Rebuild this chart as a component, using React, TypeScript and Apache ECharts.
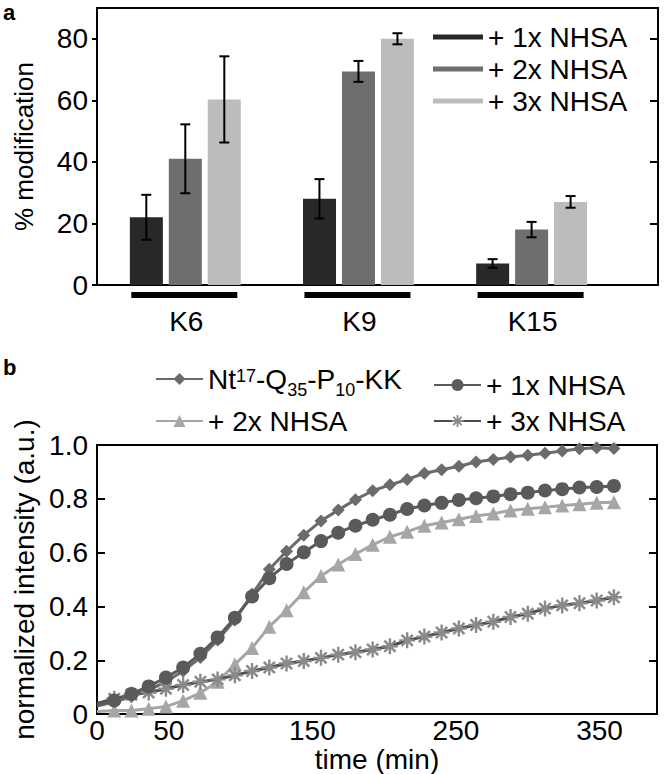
import React, { useEffect, useRef } from "react";
import * as echarts from "echarts";

// ---------- panel a data ----------
const sites = ["K6", "K9", "K15"];
const sitePos = [1, 2, 3];
const barNames = ["+ 1x NHSA", "+ 2x NHSA", "+ 3x NHSA"];
const mod1x = [22, 28, 7];
const mod2x = [41, 69.4, 18];
const mod3x = [60.3, 80, 27];
const err1x = [7.3, 6.4, 1.4];
const err2x = [11.2, 3.4, 2.5];
const err3x = [14, 1.8, 1.9];
const modTicks = [0, 20, 40, 60, 80];

// ---------- panel b data ----------
const timeMin = [0, 12, 24, 36, 48, 60, 72, 84, 96, 108, 120, 132, 144, 156, 168, 180, 192, 204, 216, 228, 240, 252, 264, 276, 288, 300, 312, 324, 336, 348, 360];
const intNt = [0.03, 0.045, 0.065, 0.09, 0.12, 0.16, 0.21, 0.275, 0.35, 0.445, 0.538, 0.605, 0.665, 0.718, 0.758, 0.797, 0.83, 0.852, 0.872, 0.895, 0.908, 0.921, 0.937, 0.946, 0.955, 0.962, 0.969, 0.978, 0.986, 0.99, 0.987];
const int1x = [0.035, 0.051, 0.075, 0.103, 0.136, 0.173, 0.224, 0.285, 0.358, 0.437, 0.505, 0.558, 0.601, 0.643, 0.674, 0.7, 0.722, 0.741, 0.762, 0.775, 0.785, 0.796, 0.802, 0.809, 0.817, 0.823, 0.831, 0.836, 0.842, 0.844, 0.848];
const int2x = [0.01, 0.013, 0.013, 0.02, 0.028, 0.05, 0.079, 0.12, 0.185, 0.246, 0.325, 0.386, 0.453, 0.513, 0.556, 0.595, 0.629, 0.659, 0.678, 0.7, 0.712, 0.724, 0.736, 0.745, 0.757, 0.763, 0.769, 0.775, 0.78, 0.785, 0.787];
const int3x = [0.04, 0.057, 0.072, 0.08, 0.094, 0.108, 0.12, 0.129, 0.144, 0.16, 0.173, 0.188, 0.197, 0.209, 0.221, 0.23, 0.24, 0.252, 0.274, 0.288, 0.303, 0.318, 0.331, 0.343, 0.361, 0.373, 0.392, 0.404, 0.412, 0.422, 0.434];
const timeTicks = [0, 50, 150, 250, 350];
const intTicks = [0, 0.2, 0.4, 0.6, 0.8, 1.0];
const lineNames = ["b0", "b1", "b2", "b3"];
const lineLabels: Record<string, string> = {
  b0: "{n|Nt}{sup|17}{n|-Q}{sub|35}{n|-P}{sub|10}{n|-KK}",
  b1: "+ 1x NHSA",
  b2: "+ 2x NHSA",
  b3: "+ 3x NHSA",
};

const FONT = '"Liberation Sans", Arial, sans-serif';
const barColors = ["#282828", "#6e6e6e", "#bcbcbc"];
const barOffsets = [-39, 0, 39];

const starPath =
  "path://M8.5,0L11.5,0L11.5,20L8.5,20Z M0,8.5L20,8.5L20,11.5L0,11.5Z M4.1,1.9L18.1,15.9L15.9,18.1L1.9,4.1Z M15.9,1.9L18.1,4.1L4.1,18.1L1.9,15.9Z";

export default function App() {
  const ref = useRef<HTMLDivElement>(null);
  useEffect(() => {
    if (!ref.current) return;
    const chart = echarts.init(ref.current, undefined, { renderer: "svg" });
    const mods = [mod1x, mod2x, mod3x];
    const errs = [err1x, err2x, err3x];
    const lineData = [intNt, int1x, int2x, int3x];
    const lineCfg = [
      { symbol: "diamond", size: 13, line: "#6b6b6b", fill: "#6b6b6b" },
      { symbol: "circle", size: 14, line: "#5a5a5a", fill: "#5a5a5a" },
      { symbol: "triangle", size: 14, line: "#a6a6a6", fill: "#a6a6a6" },
      { symbol: starPath, size: 16, line: "#4d4d4d", fill: "#8a8a8a" },
    ];
    const axisLineStyle = { show: true, lineStyle: { color: "#000", width: 2 } };
    const labelStyle = { color: "#000", fontSize: 28, fontFamily: FONT };

    const series: any[] = [];
    barNames.forEach((name, k) => {
      series.push({
        type: "bar",
        name,
        xAxisIndex: 0,
        yAxisIndex: 0,
        barWidth: 33,
        barGap: "18%",
        itemStyle: { color: barColors[k] },
        data: sitePos.map((x, i) => [x, mods[k][i]]),
      });
    });
    barNames.forEach((_, k) => {
      series.push({
        type: "custom",
        xAxisIndex: 0,
        yAxisIndex: 0,
        z: 5,
        data: sitePos.map((x, i) => [x, mods[k][i] - errs[k][i], mods[k][i] + errs[k][i]]),
        renderItem: (params: any, api: any) => {
          const lo = api.coord([api.value(0), api.value(1)]);
          const hi = api.coord([api.value(0), api.value(2)]);
          const cx = lo[0] + barOffsets[k];
          const st = { stroke: "#000", lineWidth: 2 };
          return {
            type: "group",
            children: [
              { type: "line", shape: { x1: cx, y1: lo[1], x2: cx, y2: hi[1] }, style: st },
              { type: "line", shape: { x1: cx - 5, y1: lo[1], x2: cx + 5, y2: lo[1] }, style: st },
              { type: "line", shape: { x1: cx - 5, y1: hi[1], x2: cx + 5, y2: hi[1] }, style: st },
            ],
          };
        },
      });
    });
    series.push({
      type: "custom",
      xAxisIndex: 0,
      yAxisIndex: 0,
      clip: false,
      data: sitePos.map((x) => [x, 0]),
      renderItem: (params: any, api: any) => {
        const p = api.coord([api.value(0), 0]);
        return {
          type: "group",
          children: [
            { type: "rect", shape: { x: p[0] - 54, y: p[1] + 7, width: 106, height: 6 }, style: { fill: "#000" } },
            {
              type: "text",
              x: p[0] + 1,
              y: p[1] + 36,
              style: { text: sites[params.dataIndex], fontSize: 28, fontFamily: FONT, fill: "#000", align: "center", verticalAlign: "middle" },
            },
          ],
        };
      },
    });
    lineNames.forEach((name, k) => {
      const c = lineCfg[k];
      series.push({
        type: "line",
        name,
        xAxisIndex: 1,
        yAxisIndex: 2,
        symbol: c.symbol,
        symbolSize: c.size,
        showAllSymbol: true,
        z: k === 1 ? 4 : 3,
        lineStyle: { color: c.line, width: 3 },
        itemStyle: { color: c.fill },
        data: timeMin.map((t, i) => (i === 0 ? { value: [t, lineData[k][i]], symbol: "none" } : [t, lineData[k][i]])),
      });
    });

    const lgBase = {
      orient: "vertical",
      padding: 0,
      selectedMode: false,
      itemWidth: 47,
      itemHeight: 15,
      formatter: (n: string) => lineLabels[n],
    };

    chart.setOption({
      animation: false,
      grid: [
        { left: 97, right: 6, top: 8, height: 277, show: true, borderColor: "#000", borderWidth: 2, backgroundColor: "transparent" },
        { left: 97, right: 7, top: 445, height: 274, show: true, borderColor: "#000", borderWidth: 2, backgroundColor: "transparent" },
      ],
      xAxis: [
        {
          gridIndex: 0,
          type: "value",
          min: 0.49,
          max: 3.73,
          axisLine: axisLineStyle,
          axisTick: { show: false },
          axisLabel: { show: false },
          splitLine: { show: false },
        },
        {
          gridIndex: 1,
          type: "value",
          min: 0,
          max: 390,
          interval: 50,
          axisLine: axisLineStyle,
          axisTick: { show: false },
          axisLabel: {
            ...labelStyle,
            margin: 2,
            customValues: timeTicks,
            formatter: (v: number) => (timeTicks.includes(v) ? String(v) : ""),
          },
          splitLine: { show: false },
          name: "time (min)",
          nameLocation: "middle",
          nameGap: 24,
          nameTextStyle: { ...labelStyle },
        },
      ],
      yAxis: [
        {
          gridIndex: 0,
          type: "value",
          min: 0,
          max: 90,
          interval: 20,
          axisLine: axisLineStyle,
          axisTick: { show: true, inside: false, length: 5, customValues: modTicks, lineStyle: { color: "#000", width: 2 } },
          axisLabel: { ...labelStyle, margin: 9, customValues: modTicks, formatter: (v: number) => (modTicks.includes(v) ? String(v) : "") },
          splitLine: { show: false },
          name: "% modification",
          nameLocation: "middle",
          nameGap: 60,
          nameTextStyle: { ...labelStyle, fontSize: 26 },
        },
        {
          gridIndex: 0,
          type: "value",
          position: "right",
          min: 0,
          max: 90,
          interval: 20,
          axisLine: axisLineStyle,
          axisTick: { show: true, inside: true, length: 8, customValues: modTicks.slice(1), lineStyle: { color: "#000", width: 2 } },
          axisLabel: { show: false },
          splitLine: { show: false },
        },
        {
          gridIndex: 1,
          type: "value",
          min: 0,
          max: 1,
          interval: 0.2,
          axisLine: axisLineStyle,
          axisTick: { show: true, inside: true, length: 8, customValues: intTicks.slice(1, 5), lineStyle: { color: "#000", width: 2 } },
          axisLabel: { ...labelStyle, margin: 9, customValues: intTicks, formatter: (v: number) => (v === 0 ? "0" : v.toFixed(1)) },
          splitLine: { show: false },
          name: "normalized intensity (a.u.)",
          nameLocation: "middle",
          nameGap: 58,
          nameTextStyle: { ...labelStyle },
        },
        {
          gridIndex: 1,
          type: "value",
          position: "right",
          min: 0,
          max: 1,
          interval: 0.2,
          axisLine: axisLineStyle,
          axisTick: { show: true, inside: true, length: 8, customValues: intTicks.slice(1, 5), lineStyle: { color: "#000", width: 2 } },
          axisLabel: { show: false },
          splitLine: { show: false },
        },
      ],
      legend: [
        {
          data: barNames,
          orient: "vertical",
          left: 433,
          top: 23,
          padding: 0,
          selectedMode: false,
          icon: "rect",
          itemWidth: 50,
          itemHeight: 5,
          itemGap: 4,
          textStyle: { color: "#000", fontSize: 28, lineHeight: 28, fontFamily: FONT },
        },
        {
          ...lgBase,
          data: ["b0"],
          left: 155,
          top: 365,
          textStyle: {
            color: "#000",
            fontFamily: FONT,
            fontSize: 28,
            rich: {
              n: { fontSize: 28, fontFamily: FONT, color: "#000", verticalAlign: "bottom", padding: [0, 0, 6, 0] },
              sub: { fontSize: 18, fontFamily: FONT, color: "#000", verticalAlign: "bottom", padding: [22, 0, 0, 0] },
              sup: { fontSize: 18, fontFamily: FONT, color: "#000", verticalAlign: "bottom", padding: [8, 0, 14, 0] },
            },
          },
        },
        { ...lgBase, data: ["b1"], left: 433, top: 371, textStyle: { color: "#000", fontSize: 28, lineHeight: 28, fontFamily: FONT } },
        { ...lgBase, data: ["b2"], left: 155, top: 407, textStyle: { color: "#000", fontSize: 28, lineHeight: 28, fontFamily: FONT } },
        { ...lgBase, data: ["b3"], left: 433, top: 407, textStyle: { color: "#000", fontSize: 28, lineHeight: 28, fontFamily: FONT } },
      ],
      graphic: [
        { type: "text", left: 3, top: 1, style: { text: "a", fontSize: 22, fontWeight: "bold", fontFamily: FONT, fill: "#000" } },
        { type: "text", left: 3, top: 356, style: { text: "b", fontSize: 22, fontWeight: "bold", fontFamily: FONT, fill: "#000" } },
      ],
      series,
    });
    return () => chart.dispose();
  }, []);
  return <div ref={ref} style={{ position: "absolute", left: 0, top: 0, width: 664, height: 774 }} />;
}
